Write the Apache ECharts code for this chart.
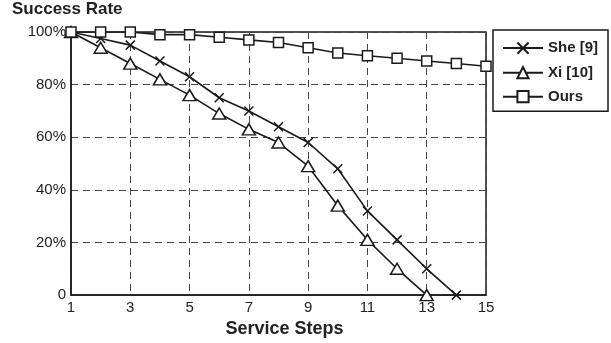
<!DOCTYPE html>
<html>
<head>
<meta charset="utf-8">
<script src="https://cdn.jsdelivr.net/npm/echarts@6/dist/echarts.min.js"></script>
<style>html,body{margin:0;padding:0;background:#fff}#c{width:611px;height:343px}</style>
</head>
<body>
<div id="c"></div>
<script>
const steps = [1,2,3,4,5,6,7,8,9,10,11,12,13,14,15];
const sheData = [100,97.5,95,89,83,75,70,64,58,48,32,21,10,0];
const xiData = [100,94,88,82,76,69,63,58,49,34,21,10,0];
const oursData = [100,100,100,99,99,98,97,96,94,92,91,90,89,88,87];
const seriesNames = ['She [9]','Xi [10]','Ours'];
const yTicks = [0,20,40,60,80,100];

function pairs(vals){ return vals.map((v,i)=>[steps[i], v]); }

const ink = '#1a1a1a';
const chart = echarts.init(document.getElementById('c'), null, {renderer:'canvas'});
const xSym = 'path://M0,0L10,10M10,0L0,10';
const common = {
  type:'line',
  lineStyle:{color:ink,width:1.6},
  itemStyle:{color:'#fff',borderColor:ink,borderWidth:1.5},
  showAllSymbol:true,
  animation:false,
  z:3
};
chart.setOption({
  animation:false,
  backgroundColor:'#fff',
  textStyle:{fontFamily:'Liberation Sans, Arial, sans-serif'},
  title:{
    text:'Success Rate', left:12, top:1, padding:0,
    textStyle:{fontSize:17,fontWeight:'bold',color:'#222',fontFamily:'Liberation Sans, Arial, sans-serif'}
  },
  legend:{
    orient:'vertical', left:493, top:30,
    padding:[10,10,7,9], itemGap:9, itemWidth:40, itemHeight:14,
    borderColor:ink, borderWidth:1.5, backgroundColor:'#fff',
    textStyle:{fontSize:15,fontWeight:'bold',color:'#222',fontFamily:'Liberation Sans, Arial, sans-serif'},
    data:seriesNames
  },
  grid:{left:71,right:125,top:32,bottom:42,show:true,borderColor:ink,borderWidth:1.5,backgroundColor:'transparent'},
  xAxis:{
    type:'value', min:1, max:15, interval:2,
    name:'Service Steps', nameLocation:'middle', nameGap:19,
    nameTextStyle:{fontSize:18,fontWeight:'bold',color:'#222',padding:[0,0,0,12]},
    axisLine:{show:true,lineStyle:{color:ink,width:1.5}},
    axisTick:{show:false},
    axisLabel:{fontSize:15,color:'#222',margin:5},
    splitLine:{show:true,lineStyle:{color:'#444',width:1,type:[7,5]}}
  },
  yAxis:{
    type:'value', min:0, max:100, interval:20,
    axisLine:{show:true,lineStyle:{color:ink,width:1.5}},
    axisTick:{show:false},
    axisLabel:{fontSize:15,color:'#222',margin:5,
      formatter:v=> yTicks.indexOf(v)===0 ? '0' : v+'%'},
    splitLine:{show:true,lineStyle:{color:'#444',width:1,type:[7,5]}}
  },
  series:[
    Object.assign({},common,{name:seriesNames[0],data:pairs(sheData),symbol:xSym,symbolSize:9,
      itemStyle:{color:'none',borderColor:ink,borderWidth:1.5}}),
    Object.assign({},common,{name:seriesNames[1],data:pairs(xiData),symbol:'triangle',symbolSize:[13,11]}),
    Object.assign({},common,{name:seriesNames[2],data:pairs(oursData),symbol:'rect',symbolSize:10})
  ]
});
</script>
</body>
</html>
